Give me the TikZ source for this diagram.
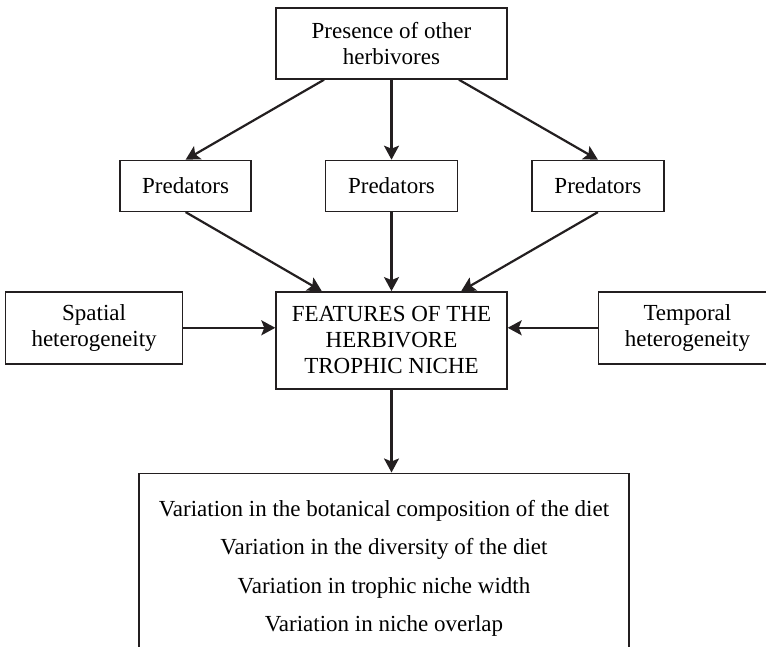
\documentclass[tikz,border=0pt]{standalone}
\usepackage{fontspec}
\setmainfont{Liberation Serif}
\usetikzlibrary{positioning,arrows.meta,calc}
\definecolor{boxline}{HTML}{231F20}

\begin{document}
\begin{tikzpicture}[
      x=0.5pt, y=-0.5pt,
      box/.style={draw=boxline,line width=0.7pt,align=center,inner sep=2pt,minimum height=25.5pt,font=\fontsize{11.5}{13}\selectfont},
      arr/.style={-{Stealth[length=7pt,width=7.5pt,inset=1.5pt]},line width=1.1pt,draw=boxline}
    ]
    \useasboundingbox (0,0) rectangle (766,647);
    \node[box, minimum width=115.5pt, minimum height=35.5pt] (herb) at (391.5,43.5) {Presence of other\\herbivores};
    \node[box, below=40pt of herb, minimum width=66pt] (predM) {Predators};
    \node[box, left=36.5pt of predM, minimum width=65.5pt] (predL) {Predators};
    \node[box, right=36.5pt of predM, minimum width=66pt] (predR) {Predators};
    \node[box, below=39.5pt of predM, minimum width=115.5pt, minimum height=48.5pt] (niche) {FEATURES OF THE\\HERBIVORE\\TROPHIC NICHE};
    \node[box, left=46pt of niche.north west, anchor=north east, minimum width=88.5pt, minimum height=36pt] (spatial) {Spatial\\heterogeneity};
    \node[box, right=45pt of niche.north east, anchor=north west, minimum width=89pt, minimum height=36pt] (temporal) {Temporal\\heterogeneity};
    \node[box, below=41.5pt of niche, xshift=-3.75pt, minimum width=245pt, minimum height=95pt] (effects) {Variation in the botanical composition of the diet\\[6.25pt]Variation in the diversity of the diet\\[6.25pt]Variation in trophic niche width\\[6.25pt]Variation in niche overlap};

    \draw[arr] ($(herb.south west)!0.21!(herb.south east)$) -- (predL.north);
    \draw[arr] (herb) -- (predM);
    \draw[arr] ($(herb.south west)!0.79!(herb.south east)$) -- (predR.north);
    \draw[arr] (predL.south) -- ($(niche.north west)!0.2!(niche.north east)$);
    \draw[arr] (predM) -- (niche);
    \draw[arr] (predR.south) -- ($(niche.north west)!0.8!(niche.north east)$);
    \draw[arr] (spatial.east) -- (spatial.east -| niche.west);
    \draw[arr] (temporal.west) -- (temporal.west -| niche.east);
    \draw[arr] (niche) -- (niche.south |- effects.north);
  \end{tikzpicture}
\end{document}
